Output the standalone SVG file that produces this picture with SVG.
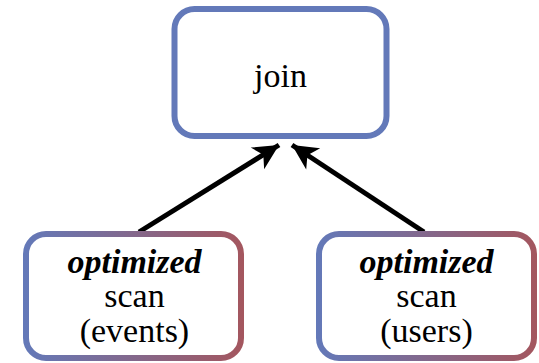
<svg xmlns="http://www.w3.org/2000/svg" width="539" height="363" viewBox="0 0 539 363">
<defs>
<linearGradient id="g1" gradientUnits="userSpaceOnUse" x1="23" y1="0" x2="244" y2="0">
<stop offset="0" stop-color="#6379b9"/><stop offset="1" stop-color="#a4565e"/>
</linearGradient>
<linearGradient id="g2" gradientUnits="userSpaceOnUse" x1="316" y1="0" x2="537" y2="0">
<stop offset="0" stop-color="#6379b9"/><stop offset="1" stop-color="#a4565e"/>
</linearGradient>
<marker id="ah" markerUnits="userSpaceOnUse" markerWidth="30" markerHeight="30" viewBox="-24 -12 26 24" refX="0" refY="0" orient="auto">
<path d="M0,0 L-22,-11 L-16,0 L-22,11 Z" fill="#000"/>
</marker>
</defs>
<style>
.box{fill:#fff;stroke-width:6}
.edge{stroke:#000;stroke-width:5;fill:none;marker-end:url(#ah)}
</style>
<g id="connectors">
<path class="edge" d="M139,232 L279,145"/>
<path class="edge" d="M424,232 L292,145"/>
</g>
<g id="join">
<rect class="box" x="174.5" y="9" width="212" height="127" rx="20" stroke="#6379b9"/>
<text x="254" y="87" font-size="34" font-family="Liberation Serif">join</text>
</g>
<g id="scan-events">
<rect class="box" x="26" y="234" width="215" height="124" rx="20" stroke="url(#g1)"/>
<text x="67.5" y="273" font-size="34" font-family="Liberation Serif" font-weight="bold" font-style="italic">optimized</text>
<text x="104.3" y="307" font-size="34" font-family="Liberation Serif">scan</text>
<text x="79.7" y="342" font-size="34" font-family="Liberation Serif">(events)</text>
</g>
<g id="scan-users">
<rect class="box" x="319" y="234" width="215" height="124" rx="20" stroke="url(#g2)"/>
<text x="359.5" y="273" font-size="34" font-family="Liberation Serif" font-weight="bold" font-style="italic">optimized</text>
<text x="396.3" y="307" font-size="34" font-family="Liberation Serif">scan</text>
<text x="380.2" y="342" font-size="34" font-family="Liberation Serif">(users)</text>
</g>
</svg>
